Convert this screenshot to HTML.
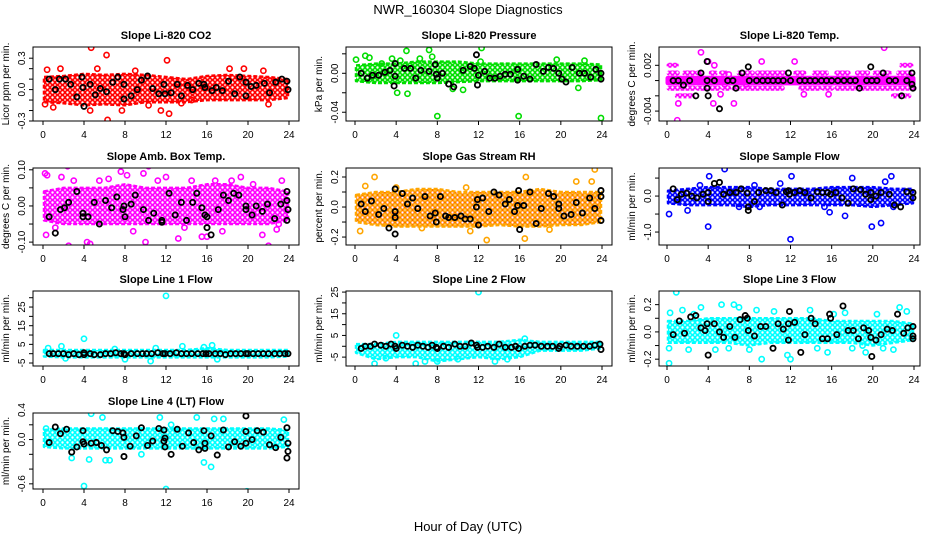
<!DOCTYPE html>
<html><head><meta charset="utf-8"><style>
body{margin:0;background:#fff}
svg{display:block;font-family:"Liberation Sans",sans-serif}
</style></head><body>
<svg id="chart" width="936" height="540" viewBox="0 0 936 540">
<defs id="defs"></defs>
<text x="468" y="14" text-anchor="middle" font-size="13">NWR_160304  Slope Diagnostics</text>
<text x="468" y="531" text-anchor="middle" font-size="13">Hour of Day (UTC)</text>
</svg>
<script>
const xTicks=[0,4,8,12,16,20,24];
const bandHours=[0,2,4,6,8,10,12,14,16,18,20,22,24];
const co2Lo=[-0.12,-0.13,-0.15,-0.14,-0.15,-0.12,-0.12,-0.12,-0.1,-0.1,-0.1,-0.1,-0.08];
const co2Hi=[0.12,0.13,0.15,0.14,0.15,0.14,0.12,0.1,0.13,0.14,0.13,0.12,0.1];
const co2Pts=[4.7,0.4,6.2,0.33,12.1,0.28,6.3,-0.29,12.3,-0.23,4.6,-0.2,1.0,-0.17,0.2,-0.14,18.2,0.2,19.6,0.2,1.7,0.2,0.4,0.19,5.3,0.2,7.7,-0.2,9.0,0.18,10.3,-0.15,11.5,-0.2,13.5,-0.13,14.5,-0.1,21.5,0.18,22.0,-0.14];
const co2Blk=[0.6,0.1,1.2,0,1.6,0.1,2.2,0.1,2.7,0.05,3.3,-0.07,3.8,0.12,4.0,-0.16,3.9,0.02,4.6,0.05,5.1,-0.05,5.6,0.01,6.2,-0.02,6.8,0.07,7.3,0.12,7.9,-0.09,7.9,0.05,8.6,-0.06,9.2,0,9.6,0.09,10.2,0.13,10.7,0.01,11.3,-0.04,11.8,0.05,11.9,-0.04,12.5,-0.03,13.1,0.05,13.5,-0.06,14.1,0.04,14.6,0,15.2,0.06,15.7,0.05,15.8,0.02,16.5,-0.01,16.9,0.02,17.5,-0.01,18.1,0.08,18.7,-0.04,19.2,0.12,19.8,-0.06,19.8,0.07,20.3,0.03,20.8,0.04,21.6,0.06,22.1,-0.03,22.7,0.07,23.3,0.1,23.8,0.08,23.9,0];
const presLo=[-0.008,-0.01,-0.01,-0.01,-0.01,-0.009,-0.008,-0.008,-0.008,-0.008,-0.008,-0.008,-0.007];
const presHi=[0.008,0.01,0.01,0.012,0.012,0.012,0.01,0.01,0.01,0.01,0.01,0.01,0.009];
const presPts=[0.1,0.014,1.0,0.018,1.4,0.016,2.6,0.01,3.6,0.015,5.0,0.023,4.1,-0.02,5.1,-0.021,7.2,0.024,7.5,0.017,8.0,-0.044,9.5,-0.016,10.5,-0.017,12.3,0.026,12.2,0.012,15.9,-0.044,19.6,0.014,21.7,-0.015,23.9,-0.046,22.3,0.013,4.4,0.013,6.3,0.015];
const presBlk=[0.6,0,1.2,-0.005,1.7,-0.002,2.3,-0.002,2.9,0.001,3.4,0.003,3.9,0.01,3.8,-0.013,3.9,-0.003,4.8,0.005,5.4,0.005,5.9,-0.005,6.4,0.003,7.2,0.002,7.8,0.009,7.9,-0.001,8.0,-0.005,8.5,0,9.1,-0.011,9.6,-0.014,10.5,0.003,11.2,0.007,11.6,0.005,11.9,-0.012,11.8,0.019,12.0,-0.002,12.6,0.002,13.1,-0.005,13.6,-0.005,14.1,-0.003,14.6,-0.001,15.1,-0.001,15.8,0.004,15.8,-0.007,16.4,-0.003,17.0,-0.006,17.6,0.009,18.3,0.002,18.8,0.006,19.3,0.005,19.8,0,20.1,-0.006,20.5,-0.009,21.1,0.006,21.8,0,22.3,0,22.9,-0.004,23.4,0.004,23.9,-0.006,23.9,0];
const tempLo=[-0.0003,-0.0003,-0.0003,-0.0003,-0.0003,-0.0003,-0.0003,-0.0003,-0.0003,-0.0003,-0.0003,-0.0003,-0.0003];
const tempHi=[0.0003,0.0003,0.0003,0.0003,0.0003,0.0003,0.0003,0.0003,0.0003,0.0003,0.0003,0.0003,0.0003];
const tempSegs=[0.2,1.0,0.001,1.7,2.6,0.001,3.0,3.4,0.001,4.3,4.7,0.001,5.3,5.7,0.001,7.0,8.3,0.001,8.8,11.5,0.001,12.5,13.3,0.001,14.3,15.5,0.001,16.5,17.6,0.001,18.5,19.5,0.001,20.2,21.6,0.001,22.5,23.7,0.001,
0.2,2.6,-0.001,3.0,5.0,-0.001,5.5,6.0,-0.001,6.5,9.0,-0.001,9.3,11.2,-0.001,13.0,14.8,-0.001,15.2,16.0,-0.001,16.5,18.3,-0.001,18.6,19.5,-0.001,19.6,24,-0.001,
0.2,0.9,0.002,22.8,23.7,0.002,1.0,2.5,-0.002,22.0,23.5,-0.002];
const tempPts=[3.3,0.0037,1.0,-0.0052,21.1,0.0043,4.0,0.0025,4.6,0.002,9.2,0.0025,12.4,0.0025,1.1,-0.003,4.5,-0.003,6.5,-0.003,5.2,-0.0018,13.3,-0.0018,15.7,-0.0018,5.6,-0.0005,6.0,0.0008,7.7,-0.0005];
const tempBlk=[0.6,0,1.1,0,1.6,-0.0006,2.2,0,2.8,-0.002,3.3,0.001,3.9,0.0025,3.9,0,3.9,-0.001,4.0,-0.002,4.6,0,5.1,-0.0037,5.9,0,6.4,0,6.7,-0.001,7.3,0.001,7.9,0.0018,8.0,0,8.7,0,9.3,0,9.8,0,10.3,0,10.8,0,11.3,0,11.8,0.001,12.0,0,12.9,0,13.4,0,13.9,0,14.4,0,15.0,0,15.5,0,16.0,0,16.6,0,17.2,0,17.8,0,18.3,0,18.7,-0.001,19.4,0,19.8,0.0018,19.9,0,20.4,0,21.0,0.001,21.6,0,22.2,0,22.8,-0.002,23.3,0,23.8,0.001,23.8,-0.0005,23.9,-0.001];
const ambLo=[-0.04,-0.05,-0.05,-0.05,-0.05,-0.05,-0.05,-0.05,-0.05,-0.05,-0.05,-0.05,-0.04];
const ambHi=[0.04,0.05,0.05,0.05,0.06,0.05,0.05,0.05,0.06,0.06,0.05,0.05,0.04];
const ambPts=[0.2,0.09,0.4,0.085,0.3,-0.08,2.4,0.11,2.5,-0.11,1.8,0.08,4.3,-0.1,4.6,-0.105,7.6,0.095,8.2,0.085,10.3,0.11,9.8,0.09,10.0,-0.1,12.0,0.08,13.2,-0.09,15.5,-0.085,16.0,-0.085,16.8,0.07,19.3,0.08,21.4,-0.08,22.0,-0.11,22.8,-0.065,23.3,0.07,6.4,0.075,14.5,0.07,1.2,-0.06,3.0,0.07,5.5,0.07,8.8,-0.07,11.2,0.07,13.8,-0.06,17.5,-0.07,18.4,0.07,20.5,0.06,23.0,-0.05];
const ambBlk=[0.6,-0.03,1.2,-0.075,1.7,-0.01,2.1,-0.005,2.5,0.01,3.3,0.04,3.9,-0.03,3.9,-0.02,4.4,-0.03,5.0,0.01,5.5,-0.05,6.1,0.015,6.7,-0.005,7.2,0.025,7.8,-0.01,7.9,0,8.0,-0.03,8.6,0.005,9.0,0.03,9.8,-0.01,10.3,-0.04,10.8,-0.02,11.6,-0.04,11.6,-0.045,12.3,0.035,12.9,-0.025,13.5,0.01,14.0,-0.04,14.6,0.01,15.0,0.035,15.5,-0.005,15.8,-0.025,16.0,-0.03,16.0,-0.06,16.4,-0.08,17.1,-0.01,17.6,0.03,18.1,0.015,18.6,0.035,19.1,0.03,19.8,0,19.8,-0.01,20.4,-0.025,20.8,0,21.4,-0.015,21.9,0.005,22.6,-0.035,23.2,0.005,23.8,0.04,23.8,0.015,23.8,-0.04,23.9,-0.01];
const rhLo=[-0.1,-0.12,-0.13,-0.13,-0.13,-0.13,-0.13,-0.12,-0.13,-0.13,-0.12,-0.12,-0.1];
const rhHi=[0.08,0.1,0.1,0.12,0.12,0.1,0.1,0.1,0.1,0.12,0.1,0.1,0.1];
const rhPts=[1.9,0.2,0.5,-0.16,1.0,0.14,10.8,0.13,12.8,-0.22,16.6,0.2,16.5,-0.21,23.3,0.25,23.0,0.17,4.0,0.13,11.2,-0.16,18.9,-0.15,6.5,-0.14,21.5,0.17];
const rhBlk=[0.6,0.02,1.0,-0.03,1.6,0.04,2.3,-0.05,2.8,-0.01,3.3,-0.14,3.9,-0.18,3.9,0.12,3.9,-0.03,3.9,-0.07,4.6,0.09,5.1,0.02,5.6,0.06,6.1,-0.01,6.8,0.07,7.3,-0.06,7.8,-0.04,7.9,-0.1,8.3,0.07,8.8,-0.06,9.1,-0.07,9.7,-0.07,10.3,-0.06,10.7,-0.08,11.2,-0.08,11.9,0.05,11.8,0,12.0,-0.12,12.4,0.06,13.0,-0.03,13.5,0.1,14.0,0.08,14.6,0.02,15.0,0.05,15.5,-0.03,15.9,0.11,15.8,0.01,16.0,-0.15,16.4,0.01,17.0,0.1,17.6,-0.11,18.1,-0.01,18.8,0.09,19.3,0.07,19.8,0.02,19.8,-0.01,20.3,-0.06,21.0,-0.05,21.5,0.03,22.1,-0.04,22.8,0.06,23.3,-0.01,23.9,0.11,23.9,0.07,23.9,-0.09];
const sfLo=[-0.2,-0.25,-0.25,-0.25,-0.3,-0.25,-0.25,-0.25,-0.25,-0.25,-0.3,-0.25,-0.2];
const sfHi=[0.15,0.2,0.25,0.25,0.25,0.2,0.2,0.2,0.25,0.25,0.25,0.2,0.2];
const sfPts=[0.2,-0.5,4.0,-0.85,5.6,0.75,4.1,0.55,7.0,-0.3,12.0,-1.2,12.1,0.55,17.3,-0.55,19.9,-0.85,20.8,-0.75,21.8,0.55,22.0,-0.3,21.2,0.4,9.0,-0.3,15.8,-0.45,8.5,0.3,11.0,0.35,15.3,-0.3,18.0,0.5,3.2,0.3,2.0,-0.4];
const sfBlk=[0.6,0.2,1.0,-0.1,1.4,0.05,1.9,0.08,2.4,0,2.9,-0.05,3.5,0.05,4.0,0.1,4.0,-0.15,4.6,0.35,5.1,0.38,5.5,0.05,6.1,0.1,6.7,0.1,7.2,0.2,7.8,0.08,7.9,-0.4,7.9,-0.3,8.5,-0.15,8.9,0.1,9.6,0.15,10.1,0.15,10.6,0.1,11.2,-0.25,11.6,0.12,11.9,0.05,11.8,0.15,12.4,0.1,12.9,0.15,13.4,0.1,14.0,-0.05,14.6,0.12,15.1,0.1,15.6,0.1,15.9,0.05,16.4,0.1,17.0,-0.05,17.6,-0.2,18.1,0.2,18.8,0.18,19.3,0.05,19.8,-0.1,19.8,0.1,20.3,0,20.8,0.1,21.6,0.05,22.1,-0.25,22.7,-0.3,23.3,0.12,23.9,0.1,23.9,-0.05];
const l1Lo=[-1.5,-2,-2,-2,-2,-2,-2,-2,-2,-2,-2,-2,-1.5];
const l1Hi=[2,2,2,2,2,2,2,2,3,2,2,2,2];
const l1Pts=[12.0,31,4.0,8,1.8,4,0.5,3,10.5,-4,8.0,-3,13.6,4,16.5,4.5,17.0,-3,2.2,-2.5,7.0,2.5,15.7,3.5,11.0,3];
const l1Blk=[0.6,0,1.0,0,1.5,0,2.0,0,2.5,-0.5,3.0,0,3.5,-0.5,4.0,0.5,4.0,-0.5,4.6,0,5.0,-0.5,5.6,-0.5,6.1,0,6.6,0,7.1,0.5,7.6,0,7.9,0,8.0,-0.5,8.6,0,9.2,0,9.7,0,10.1,0,10.6,0,11.2,0.5,11.7,0,11.9,0,12.4,0,13.0,0.5,13.5,0,14.0,0,14.5,0,15.1,0,15.6,0,15.9,0,16.2,0,16.8,0,17.3,0,17.8,-0.5,18.3,0,18.8,0,19.3,0,19.8,0,20.0,0,20.5,0,21.0,0,21.5,0,22.0,0,22.6,0,23.1,0,23.6,0,23.9,0];
const l2Lo=[-3,-6,-5,-5,-7,-6,-5,-6,-5,-2,-2,-2,-1];
const l2Hi=[1,1,2,2,2,2,2,2,3,2,2,2,2];
const l2Pts=[12.0,25,4.0,5,1.9,-8,5.9,-8,13.6,-7,14.8,-6,3.0,-5.5,6.8,-7,16.5,3.5,10,-6,8.0,-7];
const l2Blk=[0.6,-1,1.0,0,1.5,0,1.9,1,2.5,0.5,3.0,0,3.5,1,3.9,0,4.0,-1,4.6,0.5,5.1,0,5.6,-0.5,6.1,0.5,6.6,0,7.1,-0.5,7.5,0.5,7.9,-0.5,8.0,-1,8.6,0,9.1,-0.5,9.7,1,10.2,0,10.7,0,11.3,1.5,11.8,0.5,11.9,-0.5,12.4,-0.5,12.9,0,13.5,-0.5,14.0,1,14.6,-0.5,15.2,-0.5,15.6,0,15.9,-1,16.5,0,17.0,0.5,17.5,0.5,18.1,0,18.7,0,19.2,0,19.8,-1,19.9,0,20.5,0.5,21.0,0,21.6,0,22.2,0,22.8,0,23.3,0.5,23.8,1,23.9,-1.5];
const l3Lo=[-0.08,-0.08,-0.08,-0.08,-0.1,-0.08,-0.08,-0.08,-0.08,-0.08,-0.1,-0.08,-0.06];
const l3Hi=[0.08,0.08,0.1,0.1,0.1,0.1,0.1,0.1,0.08,0.08,0.08,0.08,0.06];
const l3Pts=[0.9,0.29,0.2,-0.23,0.3,0.14,0.2,-0.12,5.3,0.2,6.5,0.2,7.0,0.18,9.2,-0.2,12.0,-0.2,15.6,-0.15,19.3,-0.15,22.6,0.18,23.3,0.15,1.5,0.16,2.1,-0.13,3.3,0.18,4.7,-0.13,8.7,0.16,13.9,0.16,17.3,0.14,19.0,-0.1,21.0,-0.12,10.4,0.15,11.7,-0.17,2.6,0.13,6.0,-0.12,8.0,-0.13,14.6,-0.12,16.2,0.13,18.0,-0.12,20.4,0.13,22.0,-0.13];
const l3Blk=[0.6,-0.02,1.2,0.08,1.7,-0.01,2.3,0.11,2.8,0.12,3.3,0.03,3.7,0.01,3.9,0.06,4.0,-0.17,4.6,0.06,5.1,0,5.5,-0.04,6.1,0.04,6.6,-0.04,7.1,0.09,7.6,0.12,7.8,0.1,7.9,0.01,8.5,-0.03,9.1,0.04,9.6,0.04,10.3,-0.12,10.8,0.06,11.3,0.02,11.8,0.06,11.9,0.15,11.8,-0.06,12.4,0.07,13.0,-0.15,13.4,-0.02,14.0,0.1,14.4,0.06,15.1,-0.05,15.6,-0.05,15.8,0.13,15.9,0.1,16.5,-0.02,17.1,0.19,17.6,0.01,18.1,0.01,18.6,-0.05,19.1,0.03,19.6,0.01,19.8,-0.04,19.9,-0.18,20.3,-0.06,20.8,-0.02,21.4,0.02,21.9,0.01,22.4,0.13,23.0,-0.01,23.4,0.03,23.9,0.04,23.9,-0.03,23.9,-0.05];
const l4Lo=[-0.1,-0.12,-0.12,-0.12,-0.12,-0.12,-0.12,-0.12,-0.12,-0.12,-0.12,-0.12,-0.1];
const l4Hi=[0.13,0.15,0.15,0.15,0.15,0.15,0.15,0.15,0.15,0.15,0.15,0.15,0.13];
const l4Pts=[4.0,-0.63,12.0,-0.67,19.9,-0.7,4.7,0.35,5.8,0.3,11.4,0.3,15.0,0.3,16.7,0.28,17.6,0.28,23.5,0.27,4.5,-0.27,6.1,-0.28,6.5,-0.28,15.7,-0.31,16.4,-0.37,2.8,-0.25,0.3,0.15,9.6,-0.2,12.5,0.2];
const l4Blk=[0.6,-0.04,1.2,0.17,1.7,0.08,2.3,0.14,2.8,-0.17,3.3,-0.1,3.9,0.12,3.9,-0.03,4.0,-0.06,4.7,-0.05,5.2,-0.04,5.7,-0.08,6.2,-0.14,6.8,0.12,7.3,0.11,7.8,0.09,7.9,-0.23,7.9,0.03,8.5,-0.09,9.1,0.05,9.6,0.16,10.2,-0.08,10.7,-0.02,11.3,0.15,11.8,0.13,11.9,0.02,11.8,-0.02,11.9,-0.1,12.5,-0.2,13.1,0.14,13.6,-0.09,14.2,0.09,14.7,-0.04,15.2,-0.14,15.7,0.12,15.8,-0.05,15.8,-0.12,16.4,0.05,17.0,-0.21,17.6,0.13,18.1,-0.1,18.7,-0.03,19.3,-0.09,19.8,0.11,19.8,0.32,19.8,-0.05,20.4,0,20.9,0.12,21.5,0.1,22.1,-0.07,22.7,-0.11,23.2,0.03,23.8,0.16,23.9,-0.05,23.9,-0.16,23.8,-0.25];

const cols=[{L:33,R:299,x0:43,x24:289},{L:346,R:612,x0:355,x24:602},{L:659,R:920,x0:667,x24:914}];
const rows=[{T:47,B:121},{T:168,B:245},{T:291,B:366},{T:413,B:489}];
const panels=[
 {id:'co2',t:'Slope Li-820 CO2',yl:'Licor ppm per min.',c:0,r:0,ymin:-0.3,ymax:0.407,ticks:[-0.3,-0.2,-0.1,0,0.1,0.2,0.3],labs:['-0.3','0.0','0.3'],labv:[-0.3,0,0.3],col:'#ff0000',lo:co2Lo,hi:co2Hi,pts:co2Pts,blk:co2Blk},
 {id:'pressure',t:'Slope Li-820 Pressure',yl:'kPa per min.',c:1,r:0,ymin:-0.049,ymax:0.027,ticks:[-0.04,-0.02,0,0.02],labs:['-0.04','0.00'],labv:[-0.04,0],col:'#00dd00',lo:presLo,hi:presHi,pts:presPts,blk:presBlk},
 {id:'temp',t:'Slope Li-820 Temp.',yl:'degrees C per min.',c:2,r:0,ymin:-0.0053,ymax:0.0044,ticks:[-0.004,-0.002,0,0.002],labs:['-0.004','0.002'],labv:[-0.004,0.002],col:'#ff00ff',lo:tempLo,hi:tempHi,pts:tempPts,blk:tempBlk,segs:tempSegs},
 {id:'amb-box-temp',t:'Slope Amb. Box Temp.',yl:'degrees C per min.',c:0,r:1,ymin:-0.108,ymax:0.105,ticks:[-0.1,-0.05,0,0.05,0.1],labs:['-0.10','0.00','0.10'],labv:[-0.1,0,0.1],col:'#ff00ff',lo:ambLo,hi:ambHi,pts:ambPts,blk:ambBlk},
 {id:'gas-stream-rh',t:'Slope Gas Stream RH',yl:'percent per min.',c:1,r:1,ymin:-0.253,ymax:0.26,ticks:[-0.2,-0.1,0,0.1,0.2],labs:['-0.2','0.0','0.2'],labv:[-0.2,0,0.2],col:'#ffa500',col2:'#ff2000',lo:rhLo,hi:rhHi,pts:rhPts,blk:rhBlk},
 {id:'sample-flow',t:'Slope Sample Flow',yl:'ml/min per min.',c:2,r:1,ymin:-1.36,ymax:0.78,ticks:[-1,-0.5,0,0.5],labs:['-1.0','0.0'],labv:[-1,0],col:'#0000ff',lo:sfLo,hi:sfHi,pts:sfPts,blk:sfBlk},
 {id:'line1-flow',t:'Slope Line 1 Flow',yl:'ml/min per min.',c:0,r:2,ymin:-6.6,ymax:33.6,ticks:[-5,0,5,10,15,20,25,30],labs:['-5','5','15','25'],labv:[-5,5,15,25],col:'#00ffff',lo:l1Lo,hi:l1Hi,pts:l1Pts,blk:l1Blk},
 {id:'line2-flow',t:'Slope Line 2 Flow',yl:'ml/min per min.',c:1,r:2,ymin:-9.1,ymax:25.5,ticks:[-5,0,5,10,15,20,25],labs:['-5','5','15','25'],labv:[-5,5,15,25],col:'#00ffff',lo:l2Lo,hi:l2Hi,pts:l2Pts,blk:l2Blk},
 {id:'line3-flow',t:'Slope Line 3 Flow',yl:'ml/min per min.',c:2,r:2,ymin:-0.25,ymax:0.30,ticks:[-0.2,-0.1,0,0.1,0.2],labs:['-0.2','0.0','0.2'],labv:[-0.2,0,0.2],col:'#00ffff',lo:l3Lo,hi:l3Hi,pts:l3Pts,blk:l3Blk},
 {id:'line4-flow',t:'Slope Line 4 (LT) Flow',yl:'ml/min per min.',c:0,r:3,ymin:-0.67,ymax:0.36,ticks:[-0.6,-0.4,-0.2,0,0.2,0.4],labs:['-0.6','0.0','0.4'],labv:[-0.6,0,0.4],col:'#00ffff',lo:l4Lo,hi:l4Hi,pts:l4Pts,blk:l4Blk}
];
const NS='http://www.w3.org/2000/svg';
const svg=document.getElementById('chart');
const defs=document.getElementById('defs');
function mk(tag,attrs,parent,txt){const e=document.createElementNS(NS,tag);for(const k in attrs)e.setAttribute(k,attrs[k]);if(txt!==undefined)e.textContent=txt;parent.appendChild(e);return e;}
panels.forEach(p=>{
 const C=cols[p.c],Rw=rows[p.r];
 const xs=h=>C.x0+(h/24)*(C.x24-C.x0);
 const ys=v=>Rw.B-(v-p.ymin)/(p.ymax-p.ymin)*(Rw.B-Rw.T);
 // texture pattern of rings
 const pat=mk('pattern',{id:'pat-'+p.id,width:5,height:5,patternUnits:'userSpaceOnUse'},defs);
 mk('rect',{width:5,height:5,fill:'#fff'},pat);
 mk('circle',{cx:2.5,cy:2.5,r:2,fill:'none',stroke:p.col2||p.col,'stroke-width':1.6},pat);
 if(p.col2){mk('circle',{cx:0,cy:0,r:1.6,fill:'none',stroke:p.col,'stroke-width':1.6},pat);mk('circle',{cx:5,cy:5,r:1.6,fill:'none',stroke:p.col,'stroke-width':1.6},pat);mk('circle',{cx:5,cy:0,r:1.6,fill:'none',stroke:p.col,'stroke-width':1.6},pat);mk('circle',{cx:0,cy:5,r:1.6,fill:'none',stroke:p.col,'stroke-width':1.6},pat);}
 const g=mk('g',{},svg);
 
 
 const clip=mk('clipPath',{id:'clip-'+p.id},g);
 mk('rect',{x:C.L,y:Rw.T,width:C.R-C.L,height:Rw.B-Rw.T},clip);
 const pg=mk('g',{'clip-path':'url(#clip-'+p.id+')'},g);
 
 
 let d='';
 bandHours.forEach((h,i)=>{const hh=Math.min(23.9,Math.max(0.1,h));d+=(i?'L':'M')+xs(hh).toFixed(1)+','+ys(p.hi[i]).toFixed(1);});
 for(let i=bandHours.length-1;i>=0;i--){const hh=Math.min(23.9,Math.max(0.1,bandHours[i]));d+='L'+xs(hh).toFixed(1)+','+ys(p.lo[i]).toFixed(1);}
 const band=mk('path',{d:d+'Z',fill:'url(#pat-'+p.id+')',stroke:p.col,'stroke-width':p.segs?5:2.5,'stroke-linejoin':'round','stroke-dasharray':p.segs?'none':'4 2'},pg);
 
 
 if(p.segs){for(let i=0;i<p.segs.length;i+=3){const s=mk('line',{x1:xs(p.segs[i]),x2:xs(p.segs[i+1]),y1:ys(p.segs[i+2]),y2:ys(p.segs[i+2]),stroke:'url(#pat-'+p.id+')','stroke-width':5,'stroke-linecap':'round'},pg);
  
  }}
 for(let i=0;i<p.pts.length;i+=2){const c=mk('circle',{cx:xs(p.pts[i]),cy:ys(p.pts[i+1]),r:2.6,fill:'none',stroke:p.col,'stroke-width':1.6},pg);
  
  }
 for(let i=0;i<p.blk.length;i+=2){const c=mk('circle',{cx:xs(p.blk[i]),cy:ys(p.blk[i+1]),r:2.6,fill:'none',stroke:'#000','stroke-width':1.8},pg);
  
  }
 const box=mk('rect',{x:C.L,y:Rw.T,width:C.R-C.L,height:Rw.B-Rw.T,fill:'none',stroke:'#000','stroke-width':1},g);
 
 
 const tt=mk('text',{x:(C.L+C.R)/2,y:Rw.T-8,'text-anchor':'middle','font-size':11,'font-weight':'bold'},g,p.t);
 
 
 const xa=mk('g',{},g);
 
 
 mk('line',{x1:xs(0),x2:xs(24),y1:Rw.B,y2:Rw.B,stroke:'#000'},xa);
 xTicks.forEach(v=>{mk('line',{x1:xs(v),x2:xs(v),y1:Rw.B,y2:Rw.B+4,stroke:'#000'},xa);
  const l=mk('text',{x:xs(v),y:Rw.B+17,'text-anchor':'middle','font-size':10},xa,String(v));
  
  });
 const ya=mk('g',{},g);
 
 
 const tv=p.ticks.filter(v=>v>=p.ymin-1e-9&&v<=p.ymax+1e-9);
 mk('line',{x1:C.L,x2:C.L,y1:ys(tv[0]),y2:ys(tv[tv.length-1]),stroke:'#000'},ya);
 tv.forEach(v=>mk('line',{x1:C.L-4,x2:C.L,y1:ys(v),y2:ys(v),stroke:'#000'},ya));
 p.labs.forEach((s,i)=>{const y=ys(p.labv[i]);const l=mk('text',{x:C.L-8,y:y,'text-anchor':'middle','font-size':10,transform:'rotate(-90 '+(C.L-8)+' '+y+')'},ya,s);
  
  });
 const cy=(Rw.T+Rw.B)/2,yx=C.L-24;
 const yt=mk('text',{x:yx,y:cy,'text-anchor':'middle','font-size':10,transform:'rotate(-90 '+yx+' '+cy+')'},g,p.yl);
 
 
});
</script>
</body></html>
